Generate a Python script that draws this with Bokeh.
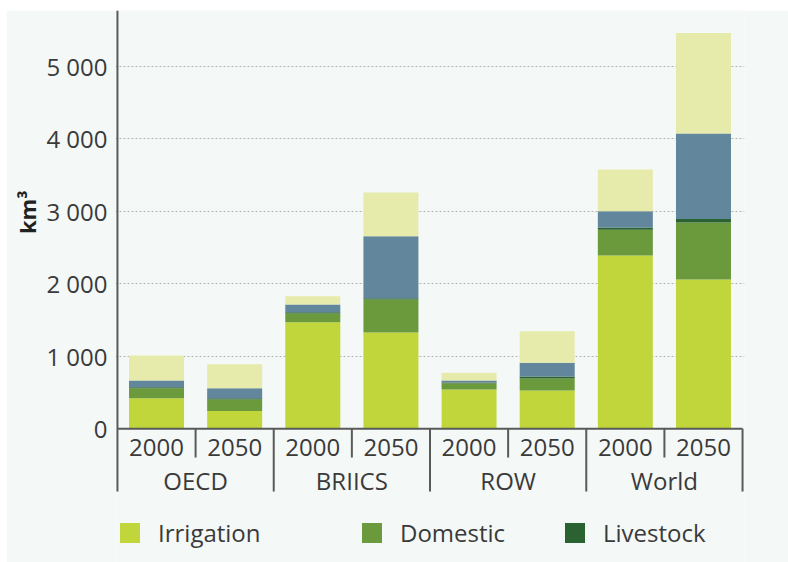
from bokeh.plotting import figure
from bokeh.models import (ColumnDataSource, Range1d, FixedTicker, Title,
                          Legend, LegendItem)
from bokeh.core.properties import value
from bokeh.embed import file_html
from bokeh.resources import INLINE

# Water demand by sector, km3
groups = ["OECD", "BRIICS", "ROW", "World"]
years = ["2000", "2050"]
irrigation = [422, 245, 1470, 1330, 542, 528, 2390, 2060]
domestic = [138, 160, 120, 455, 87, 166, 355, 785]
livestock = [14, 17, 18, 15, 10, 27, 32, 50]
manufacturing = [92, 138, 105, 855, 28, 189, 225, 1180]
electricity = [345, 329, 115, 605, 106, 436, 575, 1385]

series_names = ["Irrigation", "Domestic", "Livestock", "Manufacturing", "Electricity"]
series_keys = ["irrigation", "domestic", "livestock", "manufacturing", "electricity"]
colors = ["#c1d63b", "#6b9a3d", "#2a6232", "#62869b", "#e6ebab"]

y_ticks = [0, 1000, 2000, 3000, 4000, 5000]
y_tick_labels = ["0", "1 000", "2 000", "3 000", "4 000", "5 000"]

BG = "#f4f8f7"
INK = "#3a3a3a"
AXIS = "#5a5a5a"
FONT = "Open Sans"

n_bars = len(groups) * len(years)
bar_x = [i + 0.5 for i in range(n_bars)]
year_labels = [y for _ in groups for y in years]

source = ColumnDataSource(dict(
    x=bar_x,
    irrigation=irrigation,
    domestic=domestic,
    livestock=livestock,
    manufacturing=manufacturing,
    electricity=electricity,
))

p = figure(width=782, height=552, margin=(10, 0, 0, 6),
           x_range=Range1d(-0.025, n_bars + 0.025),
           y_range=Range1d(-1844, 5770),
           x_axis_location=None, y_axis_location="left",
           toolbar_location=None, output_backend="svg",
           min_border_left=109, min_border_right=44,
           min_border_top=0, min_border_bottom=0)
p.title.visible = False
p.background_fill_color = BG
p.border_fill_color = BG
p.outline_line_color = None

# dotted horizontal grid
p.xgrid.visible = False
p.ygrid.ticker = FixedTicker(ticks=y_ticks[1:])
p.ygrid.grid_line_color = "#b4b4b4"
p.ygrid.grid_line_dash = "2 2"
p.ygrid.grid_line_width = 1

# value axis: labels only, the line is drawn as a segment below
yax = p.yaxis[0]
yax.ticker = FixedTicker(ticks=y_ticks)
yax.major_label_overrides = {t: s for t, s in zip(y_ticks, y_tick_labels)}
yax.axis_line_color = None
yax.major_tick_line_color = None
yax.minor_tick_line_color = None
yax.major_tick_out = 0
yax.major_tick_in = 0
yax.major_label_standoff = 8
yax.major_label_text_font = FONT
yax.major_label_text_font_size = "24px"
yax.major_label_text_color = INK

# unit label, outside the tick labels
p.add_layout(Title(text="km³", align="right", offset=180, standoff=3,
                   text_font=FONT, text_font_size="22px", text_font_style="bold",
                   text_color="#222222"), "left")

renderers = p.vbar_stack(series_keys, x="x", width=0.704, source=source,
                         color=colors, line_color=None)

# axis lines and category separators
sep_year = -396
sep_group = -865
p.segment(x0=[0], y0=[sep_group], x1=[0], y1=[5770], line_color=AXIS, line_width=2)
p.segment(x0=[0], y0=[0], x1=[n_bars], y1=[0], line_color=AXIS, line_width=2)
p.segment(x0=[i for i in range(1, n_bars, 2)], y0=[0] * (n_bars // 2),
          x1=[i for i in range(1, n_bars, 2)], y1=[sep_year] * (n_bars // 2),
          line_color=AXIS, line_width=2)
p.segment(x0=[i for i in range(2, n_bars + 1, 2)], y0=[0] * len(groups),
          x1=[i for i in range(2, n_bars + 1, 2)], y1=[sep_group] * len(groups),
          line_color=AXIS, line_width=2)

# category labels
p.text(x=bar_x, y=[-258] * n_bars, text=year_labels,
       text_font=value(FONT), text_font_size="24px", text_color=INK,
       text_align="center", text_baseline="middle")
p.text(x=[2 * i + 1 for i in range(len(groups))], y=[-710] * len(groups), text=groups,
       text_font=value(FONT), text_font_size="24px", text_color=INK,
       text_align="center", text_baseline="middle")

# legend entries
legend_spots = [2, 244, 447]
for r, name, xpos in zip(renderers[:3], series_names[:3], legend_spots):
    lg = Legend(items=[LegendItem(label=name, renderers=[r])], location=(xpos, 13),
                glyph_width=25, glyph_height=25, label_standoff=16,
                padding=0, margin=0, spacing=0, label_height=25,
                border_line_color=None, background_fill_alpha=0,
                label_text_font=FONT, label_text_font_size="24px",
                label_text_color=INK)
    p.add_layout(lg, "center")

open("out.html", "w").write(file_html(p, INLINE))
